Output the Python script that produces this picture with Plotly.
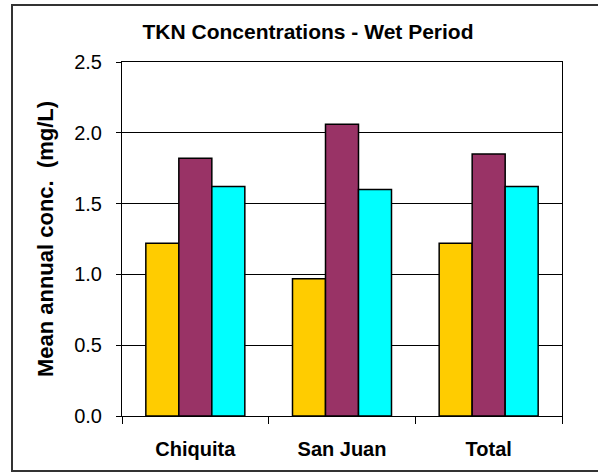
import plotly.graph_objects as go

# values
sites = ["Chiquita", "San Juan", "Total"]
series_names = ["Series 1", "Series 2", "Series 3"]
series_values = [
    [1.22, 0.97, 1.22],
    [1.82, 2.06, 1.85],
    [1.62, 1.60, 1.62],
]
series_colors = ["#FFCC00", "#993366", "#00FFFF"]
y_ticks = [0.0, 0.5, 1.0, 1.5, 2.0, 2.5]

W, H = 598, 472
L, R, T, B = 122, 36, 62, 56
pw, ph = W - L - R, H - T - B


def px_to_paper_x(px):
    return (px - L) / pw


def px_to_paper_y(py):
    return (H - B - py) / ph


font = "Arial, Liberation Sans, sans-serif"

fig = go.Figure()
for name, vals, col in zip(series_names, series_values, series_colors):
    fig.add_trace(go.Bar(
        x=sites, y=vals, name=name,
        marker=dict(color=col, line=dict(color="black", width=1.5)),
    ))

fig.update_layout(
    width=W, height=H,
    margin=dict(l=L, r=R, t=T, b=B),
    paper_bgcolor="white",
    plot_bgcolor="white",
    showlegend=False,
    barmode="group",
    bargap=0.325,
    bargroupgap=0,
    font=dict(family=font, size=20, color="black"),
    title=dict(
        text="<b>TKN Concentrations - Wet Period</b>",
        font=dict(size=21),
        x=308 / W, xanchor="center",
        y=1 - 32 / H, yanchor="middle",
    ),
    shapes=[dict(
        type="rect", xref="paper", yref="paper",
        x0=px_to_paper_x(12), x1=px_to_paper_x(602),
        y0=px_to_paper_y(471), y1=px_to_paper_y(5),
        line=dict(color="#333333", width=2),
    )],
)

fig.update_xaxes(
    type="category",
    showline=True, linecolor="black", linewidth=1, mirror=True,
    ticks="outside", tickson="boundaries", ticklen=7, tickcolor="black",
    tickfont=dict(size=20),
    tickprefix="<b>", ticksuffix="</b>",
    ticklabelstandoff=15,
    showgrid=False,
)
fig.update_yaxes(
    range=[0, 2.5],
    tickvals=y_ticks,
    tickformat=".1f",
    showline=True, linecolor="black", linewidth=1, mirror=True,
    ticks="outside", ticklen=5, tickcolor="black",
    tickfont=dict(size=20),
    ticklabelstandoff=10,
    showgrid=True, gridcolor="black", gridwidth=1,
    zeroline=False,
    title=dict(text="<b>Mean annual conc.  (mg/L)</b>", font=dict(size=22), standoff=14),
)

fig.write_html("out.html", config={"displayModeBar": False},
               post_script="document.body.style.margin='0';")
